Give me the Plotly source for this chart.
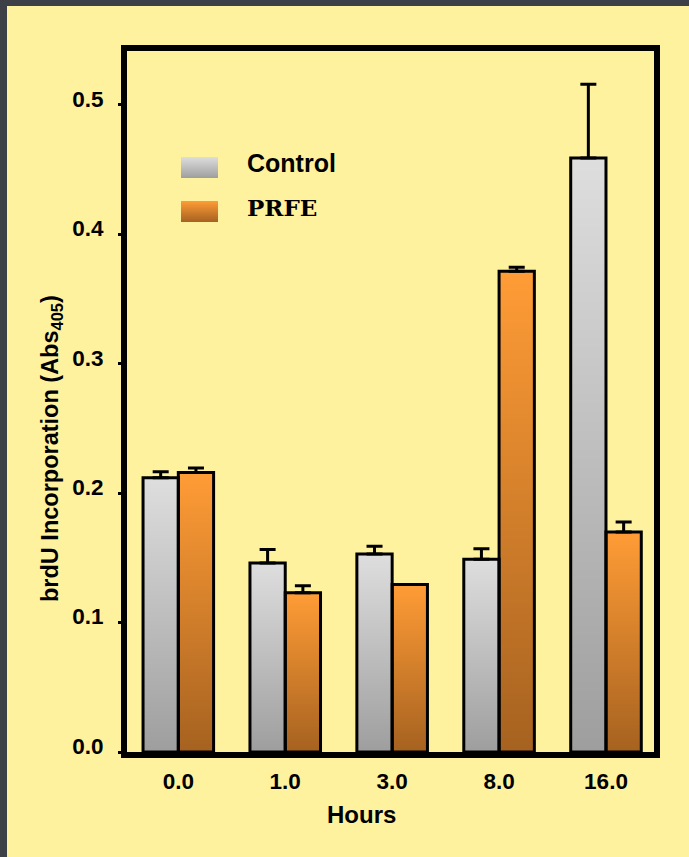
import base64
import struct
import zlib

import plotly.graph_objects as go

# ---------------- data ----------------
hours = ["0.0", "1.0", "3.0", "8.0", "16.0"]
control = [0.212, 0.146, 0.153, 0.149, 0.459]
control_err = [0.0045, 0.0105, 0.006, 0.008, 0.057]
prfe = [0.216, 0.123, 0.1295, 0.3715, 0.170]
prfe_err = [0.0035, 0.0055, 0.0, 0.003, 0.0077]
y_ticks = [0.0, 0.1, 0.2, 0.3, 0.4, 0.5]

# ---------------- styling helpers ----------------
BG = "#FFF29F"
FRAME = "#3D4046"
FONT = "Arial, Liberation Sans, sans-serif"
W, H = 689, 857
ML, MR, MT, MB = 127, 35, 51, 105
PW, PH = W - ML - MR, H - MT - MB
BAR_W = 0.33


def px2x(px):
    return (px - ML) / PW


def py2y(py):
    return (H - MB - py) / PH


def gradient_png(top, bot, h=256, w=2):
    rows = []
    for r in range(h):
        t = r / (h - 1)
        c = bytes(int(round(top[k] + (bot[k] - top[k]) * t)) for k in range(3))
        rows.append(b"\x00" + c * w)
    raw = b"".join(rows)

    def chunk(tag, data):
        return (struct.pack(">I", len(data)) + tag + data +
                struct.pack(">I", zlib.crc32(tag + data) & 0xFFFFFFFF))

    png = (b"\x89PNG\r\n\x1a\n" +
           chunk(b"IHDR", struct.pack(">IIBBBBB", w, h, 8, 2, 0, 0, 0)) +
           chunk(b"IDAT", zlib.compress(raw, 9)) +
           chunk(b"IEND", b""))
    return "data:image/png;base64," + base64.b64encode(png).decode()


GRAY = gradient_png((222, 222, 222), (158, 158, 158))
ORANGE = gradient_png((255, 156, 54), (166, 98, 32))

xs = list(range(len(hours)))

fig = go.Figure()
fig.add_trace(go.Bar(
    x=xs, y=control, width=BAR_W, offset=-BAR_W, name="Control",
    marker=dict(color="rgba(0,0,0,0)", line=dict(color="black", width=3)),
    error_y=dict(type="data", array=control_err, arrayminus=[0] * len(control),
                 symmetric=False, color="black", thickness=3, width=8),
    showlegend=False,
))
fig.add_trace(go.Bar(
    x=xs, y=prfe, width=BAR_W, offset=0, name="PRFE",
    marker=dict(color="rgba(0,0,0,0)", line=dict(color="black", width=3)),
    error_y=dict(type="data", array=prfe_err, arrayminus=[0] * len(prfe),
                 symmetric=False, color="black", thickness=3, width=8),
    showlegend=False,
))

images = []
for i, v in enumerate(control):
    images.append(dict(source=GRAY, xref="x", yref="y", x=i - BAR_W, y=v,
                       sizex=BAR_W, sizey=v, xanchor="left", yanchor="top",
                       sizing="stretch", layer="below"))
for i, v in enumerate(prfe):
    images.append(dict(source=ORANGE, xref="x", yref="y", x=i, y=v,
                       sizex=BAR_W, sizey=v, xanchor="left", yanchor="top",
                       sizing="stretch", layer="below"))
# legend swatches
images.append(dict(source=GRAY, xref="paper", yref="paper", x=px2x(181), y=py2y(157),
                   sizex=px2x(218) - px2x(181), sizey=py2y(157) - py2y(178),
                   xanchor="left", yanchor="top", sizing="stretch", layer="above"))
images.append(dict(source=ORANGE, xref="paper", yref="paper", x=px2x(181), y=py2y(201),
                   sizex=px2x(218) - px2x(181), sizey=py2y(201) - py2y(222),
                   xanchor="left", yanchor="top", sizing="stretch", layer="above"))

shapes = [
    dict(type="rect", xref="paper", yref="paper", x0=px2x(0), x1=px2x(W),
         y0=py2y(6), y1=py2y(0), fillcolor=FRAME, line=dict(width=0), layer="above"),
    dict(type="rect", xref="paper", yref="paper", x0=px2x(0), x1=px2x(7),
         y0=py2y(H), y1=py2y(0), fillcolor=FRAME, line=dict(width=0), layer="above"),
]

annotations = [
    dict(text="Control", xref="paper", yref="paper", x=px2x(245), y=py2y(162.5),
         xanchor="left", yanchor="middle", showarrow=False,
         font=dict(family=FONT, size=25, color="black", weight="bold")),
    dict(text="PRFE", xref="paper", yref="paper", x=px2x(245), y=py2y(208),
         xanchor="left", yanchor="middle", showarrow=False,
         font=dict(family="DejaVu Serif, serif", size=23, color="black", weight="bold")),
    dict(text="brdU Incorporation (Abs<sub>405</sub>)", xref="paper", yref="paper",
         x=px2x(51), y=py2y(449), xanchor="center", yanchor="middle", textangle=-90,
         showarrow=False, font=dict(family=FONT, size=23.5, color="black", weight="bold")),
    dict(text="Hours", xref="paper", yref="paper", x=px2x(361.5), y=py2y(815),
         xanchor="center", yanchor="middle", showarrow=False,
         font=dict(family=FONT, size=24, color="black", weight="bold")),
]

fig.update_layout(
    width=W, height=H,
    margin=dict(l=ML, r=MR, t=MT, b=MB, pad=0),
    paper_bgcolor=BG, plot_bgcolor="rgba(0,0,0,0)",
    barmode="overlay",
    images=images, shapes=shapes, annotations=annotations,
    showlegend=False,
    xaxis=dict(
        range=[-0.48, 4.449], tickmode="array", tickvals=xs, ticktext=hours,
        showline=True, linewidth=6, linecolor="black", mirror=True,
        ticks="", showgrid=False, zeroline=False, ticklabelstandoff=4,
        tickfont=dict(family=FONT, size=22.5, color="black", weight="bold"),
    ),
    yaxis=dict(
        range=[0, 0.5417], tickmode="array", tickvals=y_ticks, tickformat=".1f",
        showline=True, linewidth=6, linecolor="black", mirror=True,
        ticks="outside", ticklen=3, tickwidth=3, tickcolor="black",
        showgrid=False, zeroline=False, ticklabelstandoff=10, ticklabelshift=-6,
        tickfont=dict(family=FONT, size=22.5, color="black", weight="bold"),
    ),
)

fig.write_html("out.html")
